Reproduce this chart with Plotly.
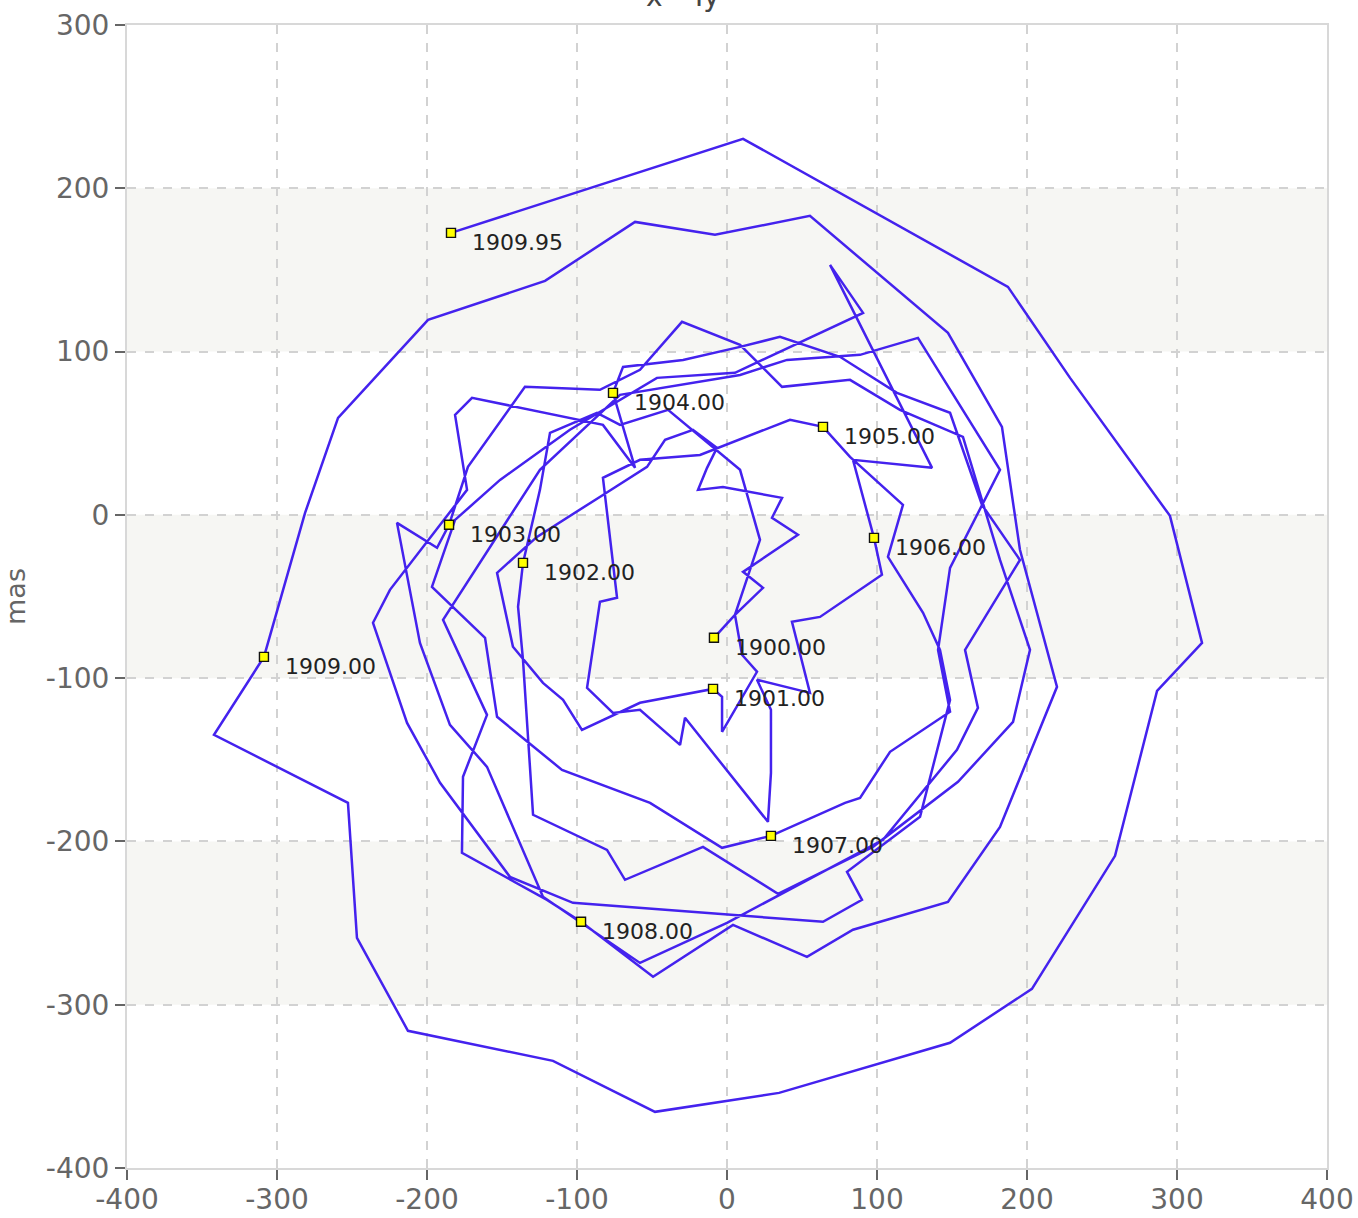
import plotly.graph_objects as go

# Polar motion path (mas), one list per year of observations
x_1900 = [-8.7, 5.3, 24.0, 10.7, 47.3, 30.0, 36.7, -2.7, -19.3, -13.3, -6.7, -22.7, -41.3, -53.3, -82.7, -126.7, -153.3, -142.7, -122.7, -109.3, -96.7, -58.0]
y_1900 = [-75.3, -61.2, -44.7, -34.9, -12.2, -1.8, 10.4, 17.1, 15.3, 28.8, 41.0, 52.1, 45.9, 29.4, 12.2, -13.5, -35.5, -80.8, -102.9, -113.3, -131.7, -115.1]
x_1901 = [-9.3, -3.3, -3.3, 16.7, 20.0, 10.0, 5.3, 22.0, 8.7, -39.3, -71.3, -86.7, -118.0, -124.7]
y_1901 = [-106.6, -111.5, -132.9, -101.0, -96.1, -85.7, -61.2, -15.3, 27.6, 64.3, 55.1, 62.5, 50.2, 15.3]
x_1902 = [-136.0, -139.3, -136.0, -129.3, -80.0, -68.0, -16.0, 34.0, 97.3, 154.0, 190.7, 202.0, 182.0, 157.3, 115.3, 82.0, 36.7, 8.7, -30.0, -58.0, -84.7, -134.7, -172.7]
y_1902 = [-29.4, -56.3, -88.8, -183.7, -205.2, -223.5, -203.3, -232.1, -203.3, -163.5, -126.8, -82.7, -27.6, 47.8, 64.3, 82.7, 78.4, 104.1, 118.2, 88.8, 76.6, 78.4, 29.4]
x_1903 = [-185.3, -193.3, -220.0, -204.7, -184.7, -160.0, -122.7, -58.0, 0.0, 104.0, 153.3, 167.3, 158.7, 195.3, 170.0, 148.7, 113.3, 75.3, 35.3, 8.7, -29.3, -69.3]
y_1903 = [-6.1, -20.2, -4.9, -78.4, -128.6, -154.3, -233.9, -274.4, -249.9, -199.0, -143.9, -118.2, -82.7, -27.6, 6.1, 62.5, 74.7, 96.8, 109.0, 102.9, 94.9, 90.6]
x_1904 = [-76.0, -61.3, -82.7, -170.0, -181.3, -173.3, -224.7, -236.0, -213.3, -191.3, -144.7, -102.7, 64.0, 90.0, 80.0, 128.7, 148.7, 142.0, 130.7, 107.3, 117.3, 82.0]
y_1904 = [74.7, 28.8, 55.1, 71.7, 61.2, 15.3, -45.9, -66.1, -127.4, -164.1, -221.7, -237.6, -249.2, -235.8, -218.6, -184.9, -113.3, -82.7, -60.0, -25.7, 6.1, 35.5]
x_1905 = [64.0, 42.0, -18.0, -58.0, -82.7, -73.3, -84.7, -93.3, -76.0, -58.0, -31.3, -28.0, 27.3, 29.3, 29.3, 20.0, 55.3, 43.3, 62.0, 82.0, 103.3]
y_1905 = [53.9, 58.2, 36.7, 33.7, 22.7, -50.8, -53.3, -105.9, -121.3, -119.4, -140.9, -124.3, -188.0, -158.0, -119.4, -101.0, -109.0, -65.5, -62.5, -50.2, -36.7]
x_1906 = [98.0, 84.0, 136.7, 68.7, 90.7, 5.3, -46.7, -104.7, -151.3, -181.3, -196.7, -161.3, -153.3, -110.0, -51.3, -3.3]
y_1906 = [-14.1, 33.7, 28.8, 153.1, 123.7, 87.0, 83.9, 52.1, 21.4, -3.1, -44.1, -75.3, -123.7, -156.2, -176.4, -203.9]
x_1907 = [29.3, 78.7, 88.7, 108.7, 148.7, 140.7, 148.7, 182.0, 127.3, 88.7, 40.0, 8.7, -71.3, -124.7, -189.3, -160.0, -176.0, -176.7, -120.0]
y_1907 = [-196.6, -176.4, -173.3, -145.1, -120.6, -82.7, -32.5, 27.6, 108.4, 98.0, 94.9, 85.7, 73.5, 27.6, -64.3, -122.5, -160.4, -207.0, -235.8]
x_1908 = [-97.3, -49.3, 4.0, 53.3, 84.0, 147.3, 182.0, 220.0, 195.3, 183.3, 147.3, 55.3, -8.0, -61.3, -121.3, -199.3, -259.3, -281.3]
y_1908 = [-249.2, -282.9, -251.1, -270.7, -254.1, -237.0, -191.1, -105.3, -21.4, 53.9, 111.5, 183.1, 171.5, 179.4, 143.3, 119.4, 59.4, 1.2]
x_1909 = [-308.7, -342.0, -252.7, -246.7, -212.7, -116.0, -48.0, 34.7, 148.7, 203.3, 258.7, 286.7, 316.7, 295.3, 228.7, 187.3, 10.7, -184.0]
y_1909 = [-87.0, -134.7, -176.4, -259.0, -316.0, -334.4, -365.6, -354.0, -323.3, -290.3, -208.8, -107.8, -78.4, -0.6, 83.9, 139.6, 230.3, 172.7]

# Labelled epochs
epoch_labels = ["1900.00", "1901.00", "1902.00", "1903.00", "1904.00", "1905.00",
                "1906.00", "1907.00", "1908.00", "1909.00", "1909.95"]
epoch_x = [-8.7, -9.3, -136.0, -185.3, -76.0, 64.0, 98.0, 29.3, -97.3, -308.7, -184.0]
epoch_y = [-75.3, -106.6, -29.4, -6.1, 74.7, 53.9, -14.1, -196.6, -249.2, -87.0, 172.7]

# Axis ticks
x_ticks = [-400, -300, -200, -100, 0, 100, 200, 300, 400]
x_tick_text = ["-400", "-300", "-200", "-100", "0", "100", "200", "300", "400"]
y_ticks = [-400, -300, -200, -100, 0, 100, 200, 300]
y_tick_text = ["-400", "-300", "-200", "-100", "0", "100", "200", "300"]
bands = [(-300, -200), (-100, 0), (100, 200)]

path_x = x_1900 + x_1901 + x_1902 + x_1903 + x_1904 + x_1905 + x_1906 + x_1907 + x_1908 + x_1909
path_y = y_1900 + y_1901 + y_1902 + y_1903 + y_1904 + y_1905 + y_1906 + y_1907 + y_1908 + y_1909

fig = go.Figure()
fig.add_trace(go.Scatter(x=path_x, y=path_y, mode="lines",
                         line=dict(color="#4422ee", width=2.5), hoverinfo="skip",
                         showlegend=False))
fig.add_trace(go.Scatter(x=epoch_x, y=epoch_y, mode="markers",
                         marker=dict(symbol="square", size=9, color="#ffff00",
                                     line=dict(color="#111111", width=1.4)),
                         showlegend=False))

for lab, ex, ey in zip(epoch_labels, epoch_x, epoch_y):
    fig.add_annotation(x=ex, y=ey, xref="x", yref="y", text=lab, showarrow=False,
                       xanchor="left", yanchor="middle", xshift=19, yshift=-10,
                       font=dict(family="DejaVu Sans", size=22, color="#222222"))

for y0, y1 in bands:
    fig.add_shape(type="rect", xref="paper", x0=0, x1=1, yref="y", y0=y0, y1=y1,
                  fillcolor="#f6f6f3", line=dict(width=0), layer="below")

# title, partially cut by the top of the page
fig.add_annotation(x=0.4633, xref="paper", y=1.0, yref="paper", yshift=10,
                   text="x - Ty", showarrow=False, xanchor="center", yanchor="bottom",
                   font=dict(family="DejaVu Sans", size=28, color="#444444"))

axis_common = dict(showgrid=True, gridcolor="#d2d2d2", griddash="dash", gridwidth=1.5,
                   zeroline=False, showline=True, linecolor="#d8d8d8", linewidth=2,
                   mirror=True, ticks="outside", ticklen=10, tickcolor="#666666",
                   tickwidth=1.5, automargin=False,
                   tickfont=dict(family="DejaVu Sans", size=28, color="#666666"))

fig.update_xaxes(range=[-400, 400], tickvals=x_ticks, ticktext=x_tick_text,
                 ticklabelstandoff=-5, **axis_common)
fig.update_yaxes(range=[-400, 300], tickvals=y_ticks, ticktext=y_tick_text,
                 title=dict(text="mas", font=dict(family="DejaVu Sans", size=27, color="#666666"),
                            standoff=13),
                 **axis_common)

fig.update_layout(width=1358, height=1218,
                  margin=dict(l=127, r=31, t=25, b=50, autoexpand=False),
                  plot_bgcolor="white", paper_bgcolor="white",
                  showlegend=False)

fig.write_html("out.html", config={"displayModeBar": False},
               post_script="document.body.style.margin='0px';")
